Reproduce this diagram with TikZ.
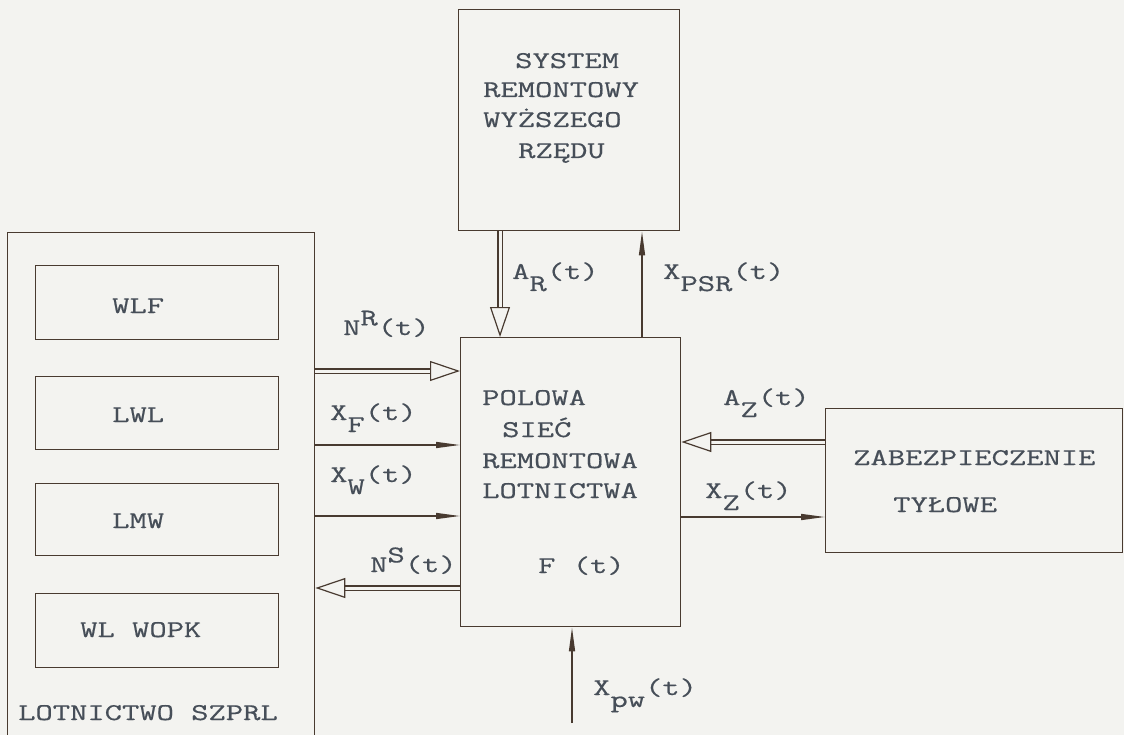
\documentclass[tikz,border=0pt]{standalone}
\usepackage{fontspec}
\setmonofont[FakeStretch=1.4,FakeBold=0.6]{Latin Modern Mono}
\usetikzlibrary{arrows.meta}
\definecolor{paper}{RGB}{243,243,240}
\definecolor{ink}{RGB}{72,58,48}
\definecolor{typeink}{RGB}{70,78,88}
% typewriter-style indices: full-size letters shifted down or up
\newcommand\lowr[1]{\raisebox{-0.5em}{#1}}
\newcommand\highr[1]{\raisebox{0.4em}{#1}}
\begin{document}
\begin{tikzpicture}[x=1pt,y=-1pt,
  box/.style={draw=ink, line width=1.4pt, inner sep=0pt, anchor=north west},
  lbl/.style={text=typeink, font=\ttfamily\fontsize{24}{29}\selectfont, anchor=base west, inner sep=0pt},
  sarrow/.style={draw=ink, line width=1.4pt, -{Triangle[length=24pt,width=6pt]}},
  darrow/.style={draw=ink, line width=1.2pt, double=paper, double distance=3pt,
    -{Triangle[open,length=30pt,width=20pt,line width=1.2pt,fill=paper]}}]
\useasboundingbox (0,0) rectangle (1124,735);
\clip (0,0) rectangle (1124,735);
\fill[paper] (0,0) rectangle (1124,735);

% blocks
\node[box, minimum width=221pt, minimum height=221pt] (top) at (458,9) {};
\node[box, minimum width=220pt, minimum height=289pt] (main) at (460,337) {};
\node[box, minimum width=297pt, minimum height=144pt] (zab) at (825,408) {};
\node[box, minimum width=307pt, minimum height=520pt] (lot) at (7,232) {};
\node[box, minimum width=243pt, minimum height=74pt] (wlf) at (35,265) {};
\node[box, minimum width=243pt, minimum height=73pt] (lwl) at (35,376) {};
\node[box, minimum width=243pt, minimum height=72pt] (lmw) at (35,483) {};
\node[box, minimum width=243pt, minimum height=74pt] (wop) at (35,593) {};

% block texts
\node[lbl] (t1) at (515,68) {SYSTEM};
\node[lbl] (t2) at (483,97) {REMONTOWY};
\node[lbl] (t3) at (483,127) {WYŻSZEGO};
\node[lbl] (t4) at (518,158) {RZĘDU};
\node[lbl] (m1) at (482,405) {POLOWA};
\node[lbl] (m2) at (502,437) {SIEĆ};
\node[lbl] (m3) at (482,468) {REMONTOWA};
\node[lbl] (m4) at (482,498) {LOTNICTWA};
\node[lbl] (m5) at (538,573) {F (t)};
\node[lbl] (z1) at (853,465) {ZABEZPIECZENIE};
\node[lbl] (z2) at (893,512) {TYŁOWE};
\node[lbl] (w1) at (112,313) {WLF};
\node[lbl] (w2) at (112,422) {LWL};
\node[lbl] (w3) at (112,528) {LMW};
\node[lbl] (w4) at (80,637) {WL WOPK};
\node[lbl] (w5) at (18,720) {LOTNICTWO SZPRL};

% connector positions
\coordinate (cAR) at (500,0);
\coordinate (cPS) at (642,0);
\coordinate (cNR) at (0,371);
\coordinate (cXF) at (0,445);
\coordinate (cXW) at (0,516);
\coordinate (cNS) at (0,588);
\coordinate (cAZ) at (0,442);
\coordinate (cXZ) at (0,517);
\coordinate (cPW) at (572,723);

% connectors
\draw[darrow] (top.south -| cAR) -- (main.north -| cAR);
\draw[sarrow] (main.north -| cPS) -- (top.south -| cPS);
\draw[darrow] (lot.east |- cNR) -- (main.west |- cNR);
\draw[sarrow] (lot.east |- cXF) -- (main.west |- cXF);
\draw[sarrow] (lot.east |- cXW) -- (main.west |- cXW);
\draw[darrow] (main.west |- cNS) -- (lot.east |- cNS);
\draw[darrow] (zab.west |- cAZ) -- (main.east |- cAZ);
\draw[sarrow] (main.east |- cXZ) -- (zab.west |- cXZ);
\draw[sarrow] (cPW) -- (main.south -| cPW);

% connector labels
\node[lbl] (lAR) at (512,279) {A\lowr{R}(t)};
\node[lbl] (lPS) at (663,279) {X\lowr{PSR}(t)};
\node[lbl] (lNR) at (343,335) {N\highr{R}(t)};
\node[lbl] (lXF) at (330,420) {X\lowr{F}(t)};
\node[lbl] (lXW) at (330,482) {X\lowr{W}(t)};
\node[lbl] (lNS) at (370,572) {N\highr{S}(t)};
\node[lbl] (lAZ) at (723,405) {A\lowr{Z}(t)};
\node[lbl] (lXZ) at (705,498) {X\lowr{Z}(t)};
\node[lbl] (lPW) at (593,695) {X\lowr{pw}(t)};
\end{tikzpicture}
\end{document}
